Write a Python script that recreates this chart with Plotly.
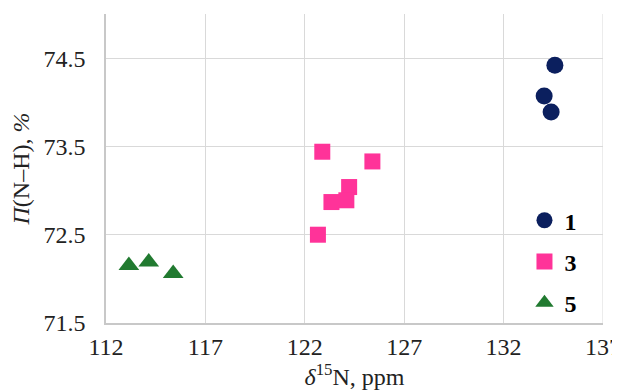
import plotly.graph_objects as go

# Series 1 (circles)
x1 = [134.58, 134.04, 134.39]
y1 = [74.42, 74.07, 73.89]
# Series 3 (squares)
x3 = [122.88, 125.40, 124.23, 123.34, 124.09, 122.66]
y3 = [73.44, 73.33, 73.04, 72.87, 72.89, 72.50]
# Series 5 (triangles)
x5 = [113.15, 114.15, 115.38]
y5 = [72.15, 72.19, 72.06]

x_ticks = [112, 117, 122, 127, 132, 137]
y_ticks = [71.5, 72.5, 73.5, 74.5]

FONT = "Liberation Serif"

fig = go.Figure()
fig.add_trace(go.Scatter(x=x1, y=y1, mode="markers", name="<b>1</b>", legendgroup="a",
                         marker=dict(symbol="circle", size=17, color="#0b1f5e")))
fig.add_trace(go.Scatter(x=x3, y=y3, mode="markers", name="<b>3</b>", legendgroup="b",
                         marker=dict(symbol="square", size=16, color="#ff3399")))
fig.add_trace(go.Scatter(x=x5, y=y5, mode="markers", name="<b>5</b>", legendgroup="c",
                         marker=dict(symbol="triangle-up", size=18, color="#217a30")))

# page body adds an 8px offset, so the figure is sized to fit inside the window
fig.update_layout(
    width=612, height=383,
    margin=dict(l=98, r=17, t=6, b=68),
    paper_bgcolor="white", plot_bgcolor="white",
    font=dict(family=FONT, size=24, color="#222222"),
    showlegend=True,
    legend=dict(x=0.842, y=0.404, xanchor="left", yanchor="top",
                bgcolor="rgba(0,0,0,0)", tracegroupgap=7,
                font=dict(family=FONT, size=24, color="black"),
                itemwidth=30),
    xaxis=dict(range=[112, 137], tickvals=x_ticks, ticktext=[str(v) for v in x_ticks],
               showgrid=True, gridcolor="#d9d9d9", gridwidth=1,
               showline=True, linecolor="#c8c8c8", linewidth=1.5,
               zeroline=False, ticks="", ticklabelstandoff=1, automargin=False,
               ticklabeloverflow="allow",
               tickfont=dict(family=FONT, size=24),
               title=dict(text="<i>δ</i><sup>15</sup>N, ppm", standoff=8,
                          font=dict(family=FONT, size=24))),
    yaxis=dict(range=[71.5, 75.0], tickvals=y_ticks, ticktext=[str(v) for v in y_ticks],
               showgrid=True, gridcolor="#d9d9d9", gridwidth=1,
               showline=True, linecolor="#c8c8c8", linewidth=1.5,
               zeroline=False, ticks="", ticklabelstandoff=14, automargin=False,
               ticklabeloverflow="allow",
               tickfont=dict(family=FONT, size=24),
               title=dict(text="<i>Π</i>(N–H), <i>%</i>", standoff=14,
                          font=dict(family=FONT, size=24))),
)
fig.add_shape(type="line", xref="x", yref="paper", x0=137, x1=137, y0=0, y1=1,
              line=dict(color="#d9d9d9", width=1))

fig.write_html("out.html")
